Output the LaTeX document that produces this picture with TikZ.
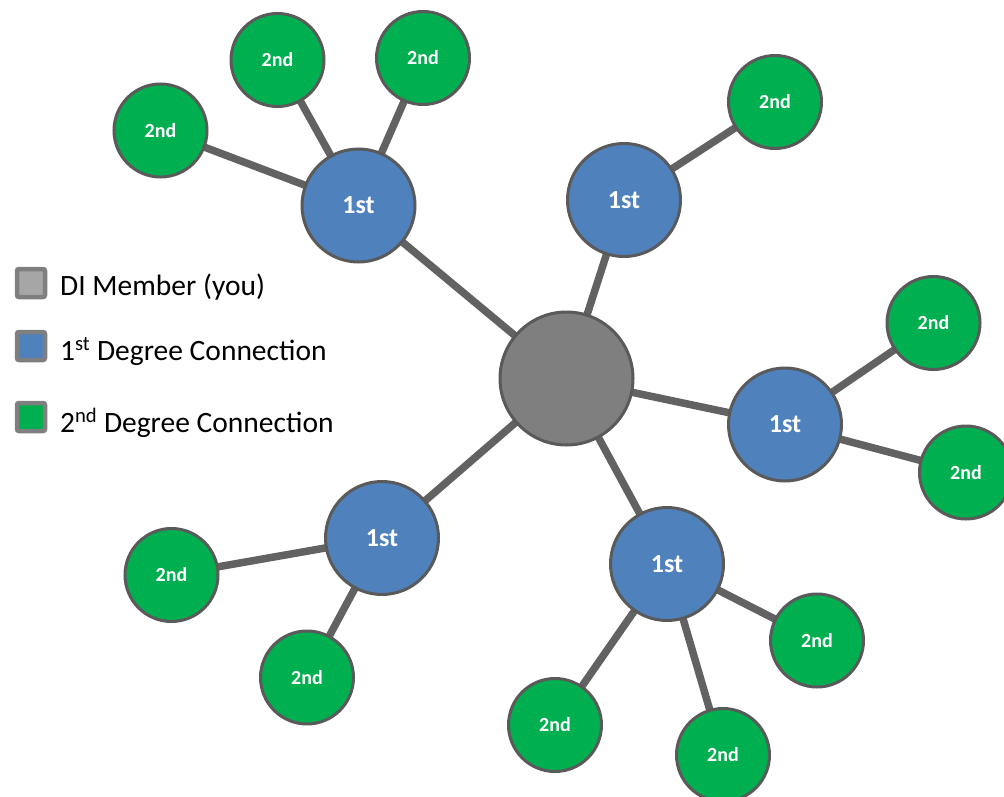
\documentclass[tikz,border=0pt]{standalone}
\usepackage{fontspec}
\setmainfont{Carlito}
\usetikzlibrary{backgrounds}
\definecolor{memgray}{HTML}{7F7F7F}
\definecolor{legray}{HTML}{A6A6A6}
\definecolor{firstblue}{HTML}{4F81BD}
\definecolor{secgreen}{HTML}{00B050}
\definecolor{rimgray}{HTML}{5A5A5A}
\definecolor{linkgray}{HTML}{626262}
\tikzset{
  member/.style={circle, draw=rimgray, line width=3pt, fill=memgray, minimum size=133pt, inner sep=0pt},
  firstdeg/.style={circle, draw=rimgray, line width=3pt, fill=firstblue, minimum size=113pt, inner sep=0pt,
    text=white, font=\fontsize{26}{30}\selectfont\bfseries},
  secdeg/.style={circle, draw=rimgray, line width=3pt, fill=secgreen, minimum size=93pt, inner sep=0pt,
    text=white, font=\fontsize{20}{24}\selectfont\bfseries},
  link/.style={draw=linkgray, line width=7.5pt},
  legbox/.style={draw=memgray, line width=4.5pt, rounded corners=2pt, minimum size=28pt, inner sep=0pt},
  legtext/.style={anchor=base west, inner sep=0pt, font=\fontsize{29.5}{34}\selectfont}
}
\begin{document}
\begin{tikzpicture}[x=1pt,y=-1pt]
\useasboundingbox (0,0) rectangle (1004,797);
\begin{scope}
\clip (0,0) rectangle (1004,797);
% center
\node[member] (c) at (566.5,378.5) {};
% first degree
\node[firstdeg] (f1) at (358.5,205.5) {1st};
\node[firstdeg] (f2) at (624,200) {1st};
\node[firstdeg] (f3) at (785,424.5) {1st};
\node[firstdeg] (f4) at (382,538) {1st};
\node[firstdeg] (f5) at (667,564) {1st};
% second degree
\node[secdeg] (s1) at (160.5,130.5) {2nd};
\node[secdeg] (s2) at (277.5,60) {2nd};
\node[secdeg] (s3) at (423,58) {2nd};
\node[secdeg] (s4) at (775,102) {2nd};
\node[secdeg] (s5) at (933.5,323) {2nd};
\node[secdeg] (s6) at (966,472.5) {2nd};
\node[secdeg] (s7) at (171.5,575) {2nd};
\node[secdeg] (s8) at (307,677.5) {2nd};
\node[secdeg] (s9) at (817,640.5) {2nd};
\node[secdeg] (s10) at (555,725) {2nd};
\node[secdeg] (s11) at (723,755) {2nd};
\begin{pgfonlayer}{background}
\foreach \a/\b in {c/f1,c/f2,c/f3,c/f4,c/f5,
  f1/s1,f1/s2,f1/s3,f2/s4,f3/s5,f3/s6,f4/s7,f4/s8,f5/s9,f5/s10,f5/s11}
  \draw[link] (\a.center) -- (\b.center);
\end{pgfonlayer}
\end{scope}
% legend
\node[legbox, fill=legray] (l1) at (31,283) {};
\node[legbox, fill=firstblue] (l2) at (31,346) {};
\node[legbox, fill=secgreen] (l3) at (31,417) {};
\node[legtext] (t1) at (60,295) {DI Member (you)};
\node[legtext] (t2) at (60,360) {1\textsuperscript{st} Degree Connection};
\node[legtext] (t3) at (60,432) {2\textsuperscript{nd} Degree Connection};
\end{tikzpicture}
\end{document}
